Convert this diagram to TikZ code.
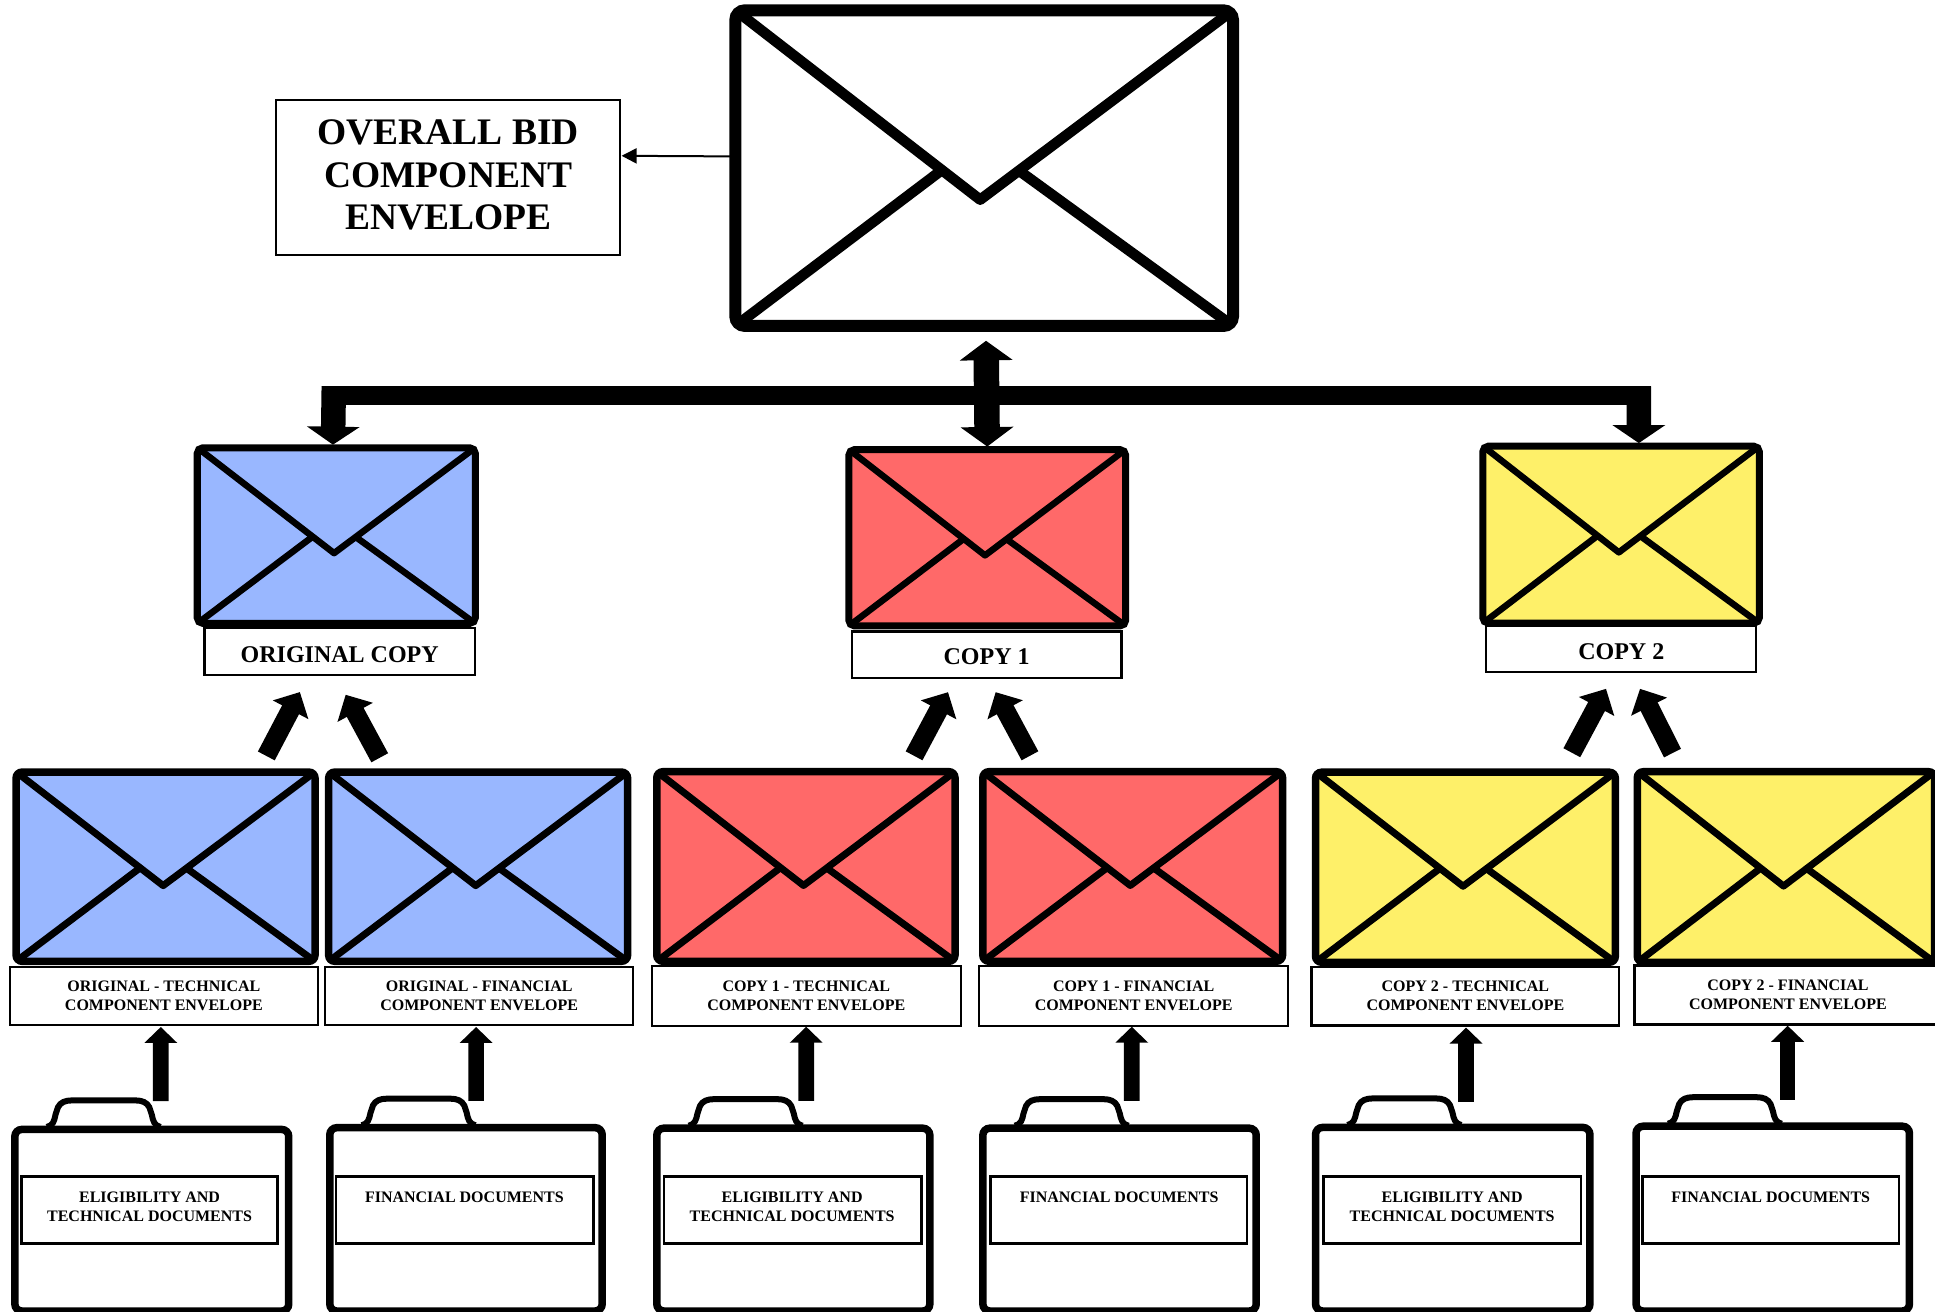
\documentclass[tikz,border=0pt]{standalone}
\usepackage{fontspec}
\setmainfont{Liberation Serif}
\usetikzlibrary{arrows.meta,calc}
\definecolor{envblue}{RGB}{153,183,255}
\definecolor{envred}{RGB}{255,105,105}
\definecolor{envyellow}{RGB}{254,240,105}
\tikzset{
  envframe/.style={draw=black,rectangle,inner sep=0pt,outer sep=0pt},
  envfold/.style={draw=black,line join=round},
  capbox/.style={draw=black,fill=white,rectangle,line width=2.3pt,inner sep=0pt,outer sep=0pt,align=center,
    font=\fontsize{16}{18.9}\selectfont\bfseries},
  bigcap/.style={capbox,font=\fontsize{24}{28}\selectfont\bfseries},
  hugecap/.style={capbox,line width=2pt,font=\fontsize{37.5}{42.5}\selectfont\bfseries},
  casebody/.style={draw=black,fill=white,rectangle,rounded corners=7pt,line width=7.5pt,inner sep=0pt,outer sep=0pt},
  casegrip/.style={draw=black,line width=6pt},
  docbox/.style={draw=black,fill=white,rectangle,line width=2.5pt,inner sep=0pt,outer sep=0pt},
  doctext/.style={inner sep=0pt,align=center,font=\fontsize{16}{18.9}\selectfont\bfseries},
  bus/.style={draw=black,line width=18.5pt},
  busdrop/.style={draw=black,line width=24.5pt,-{Triangle[width=52pt,length=18pt]}},
  twoway/.style={draw=black,line width=25.5pt,{Triangle[width=52pt,length=19.5pt]}-{Triangle[width=52pt,length=19.5pt]}},
  slant/.style={draw=black,line width=19pt,-{Triangle[width=39pt,length=20pt]}},
  upblock/.style={draw=black,line width=15.6pt,-{Triangle[width=32pt,length=16pt]}},
  thin arrow/.style={draw=black,line width=2pt,-{Triangle[width=15pt,length=15pt]}},
}
% name, outer x0 y0 x1 y1 (in reference display units), colour, frame width, fold width
\newcommand{\envelope}[8]{%
  \pgfmathsetmacro{\envW}{(#4-#2)*1.234-#7}%
  \pgfmathsetmacro{\envH}{(#5-#3)*1.234-#7}%
  \pgfmathsetmacro{\envIn}{#7/1.234/2}%
  \pgfmathsetmacro{\envXa}{#2+\envIn}%
  \pgfmathsetmacro{\envYa}{#3+\envIn}%
  \pgfmathsetmacro{\envWu}{#4-#2-2*\envIn}%
  \pgfmathsetmacro{\envHu}{#5-#3-2*\envIn}%
  \node[envframe,fill=#6,line width=#7pt,rounded corners={#7*0.8pt},minimum width=\envW pt,minimum height=\envH pt] (#1) at ({(#2+#4)/2},{(#3+#5)/2}) {};
  \coordinate (#1apex) at ({\envXa+.492*\envWu},{\envYa+.6*\envHu});
  \coordinate (#1lft) at ({\envXa+.415*\envWu},{\envYa+.506*\envHu});
  \coordinate (#1rgt) at ({\envXa+.57*\envWu},{\envYa+.508*\envHu});
  \draw[envfold,line width=#8pt] ($(#1.south west)+(1.5,-1)$) -- (#1lft);
  \draw[envfold,line width=#8pt] ($(#1.south east)+(-1.5,-1)$) -- (#1rgt);
  \draw[envfold,line width=#8pt] ($(#1.north west)+(1.5,1)$) -- (#1apex) -- ($(#1.north east)+(-1.5,1)$);
}
% style, name, x0 y0 x1 y1, text
\newcommand{\capnode}[7]{%
  \pgfmathsetmacro{\capW}{(#5-#3)*1.234-2}%
  \pgfmathsetmacro{\capH}{(#6-#4)*1.234-2}%
  \node[#1,minimum width=\capW pt,minimum height=\capH pt] (#2) at ({(#3+#5)/2},{(#4+#6)/2}) {#7};
}
% name, x0 top x1, box x0 x1, text x, text y, text
\newcommand{\briefcase}[9]{%
  \pgfmathsetmacro{\csW}{(#4-#2)*1.234-7.5}%
  \pgfmathsetmacro{\csH}{(1062.4-#3)*1.234-3.75}%
  \draw[casegrip] (#2+29,#3+1) .. controls (#2+34,#3) and (#2+35,#3-4) .. (#2+36,#3-9)
     -- (#2+38,#3-15) .. controls (#2+40,#3-19) and (#2+44,#3-20.5) .. (#2+49,#3-20.5)
     -- (#2+101,#3-20.5) .. controls (#2+106,#3-20.5) and (#2+110,#3-19) .. (#2+112,#3-15)
     -- (#2+114,#3-9) .. controls (#2+115,#3-4) and (#2+116,#3) .. (#2+121,#3+1);
  \node[casebody,minimum width=\csW pt,minimum height=\csH pt,anchor=north] (#1) at ({(#2+#4)/2},{#3+3}) {};
  \pgfmathsetmacro{\dbW}{(#6-#5)*1.234-2.5}%
  \pgfmathsetmacro{\dbH}{56.3*1.234-2.5}%
  \node[docbox,minimum width=\dbW pt,minimum height=\dbH pt] (#1box) at ({(#5+#6)/2},980.6) {};
  \node[doctext] (#1txt) at (#7,#8) {#9};
}
\begin{document}
\begin{tikzpicture}[x=1.234pt,y=-1.234pt]
\useasboundingbox (0,0) rectangle (1568,1062.4);
\path[fill=white] (0,0) rectangle (1568,1062.4);

% top level
\envelope{top}{591}{3.5}{1004}{269}{white}{12}{10.5}
\capnode{hugecap}{overall}{223}{80}{503.5}{207.5}{\raisebox{-4pt}[0pt][0pt]{\parbox{300pt}{\centering OVERALL BID\\COMPONENT\\ENVELOPE}}}
\draw[thin arrow] ($(top.west)+(0,-9.5)$) -- ($(overall.east)+(1,-17.5)$);

% second level
\envelope{origenv}{157}{360}{388}{508}{envblue}{7}{6.5}
\envelope{oneenv}{685}{361.5}{915}{510}{envred}{7}{6.5}
\envelope{twoenv}{1198.7}{358.7}{1428.5}{507.8}{envyellow}{7}{6.5}
\capnode{bigcap}{origcap}{165}{508}{385.5}{548}{\raisebox{-11pt}[0pt][0pt]{ORIGINAL COPY}}
\capnode{bigcap}{onecap}{689.5}{511}{909.5}{550}{\raisebox{-10pt}[0pt][0pt]{COPY 1}}
\capnode{bigcap}{twocap}{1203.5}{506.6}{1424}{545.6}{\raisebox{-10.5pt}[0pt][0pt]{COPY 2}}

% bus with drops
\coordinate (busL) at (260.7,320.5);
\coordinate (busR) at (1338,320.5);
\draw[bus] (busL) -- (busR);
\draw[busdrop] (270.5,313) -- ($(origenv.north)+(-2.7,-2.5)$);
\draw[busdrop] (1328,313) -- ($(twoenv.north)+(14.4,-2.5)$);
\draw[twoway] ($(top.south)+(1.5,12)$) -- ($(oneenv.north)+(0,-2.5)$);

% third level
\envelope{oT}{10}{622.6}{258.3}{782}{envblue}{7.5}{7}
\envelope{oF}{263.3}{622.6}{511.6}{782}{envblue}{7.5}{7}
\envelope{aT}{529.2}{622.3}{776.9}{782}{envred}{7.5}{7}
\envelope{aF}{793.4}{622.3}{1042.3}{782}{envred}{7.5}{7}
\envelope{bT}{1063}{622.7}{1312}{782.8}{envyellow}{7.5}{7}
\envelope{bF}{1323.7}{622.3}{1570.7}{782.8}{envyellow}{7.5}{7}

\capnode{capbox}{oTc}{7.3}{782.5}{258.3}{831.4}{ORIGINAL - TECHNICAL\\COMPONENT ENVELOPE}
\capnode{capbox}{oFc}{262.7}{782.5}{514}{831.4}{ORIGINAL - FINANCIAL\\COMPONENT ENVELOPE}
\capnode{capbox}{aTc}{527.4}{782}{779.4}{832}{COPY 1 - TECHNICAL\\COMPONENT ENVELOPE}
\capnode{capbox}{aFc}{792.7}{782}{1044.7}{832}{COPY 1 - FINANCIAL\\COMPONENT ENVELOPE}
\capnode{capbox}{bTc}{1062}{782.5}{1312.9}{831.7}{COPY 2 - TECHNICAL\\COMPONENT ENVELOPE}
\capnode{capbox}{bFc}{1323.7}{781.6}{1574}{830.9}{COPY 2 - FINANCIAL\\COMPONENT ENVELOPE}

% slanted arrows
\draw[slant] ($(oT.north)+(81.65,-13.1)$) -- ($(origcap.south)+(-32.25,13.6)$);
\draw[slant] ($(oF.north)+(-79.75,-11.6)$) -- ($(origcap.south)+(4.85,15.8)$);
\draw[slant] ($(aT.north)+(87.65,-12.9)$) -- ($(onecap.south)+(-31.3,11.7)$);
\draw[slant] ($(aF.north)+(-83.25,-12.9)$) -- ($(onecap.south)+(7.3,11.7)$);
\draw[slant] ($(bT.north)+(86.2,-15.8)$) -- ($(twocap.south)+(-12.35,13.4)$);
\draw[slant] ($(bF.north)+(-91.9,-15.1)$) -- ($(twocap.south)+(15.25,13.4)$);

% briefcases
\briefcase{k1}{9}{912.2}{237}{16.3}{226}{121.2}{977.7}{ELIGIBILITY AND\\TECHNICAL DOCUMENTS}
\briefcase{k2}{264.2}{910.8}{491}{271.3}{481.9}{376.3}{970.5}{FINANCIAL DOCUMENTS}
\briefcase{k3}{529.2}{911.2}{756.5}{537.2}{747.7}{641.9}{977.7}{ELIGIBILITY AND\\TECHNICAL DOCUMENTS}
\briefcase{k4}{793.4}{911.2}{1021}{801.6}{1011.6}{906.9}{970.5}{FINANCIAL DOCUMENTS}
\briefcase{k5}{1063}{910.6}{1291.4}{1071.4}{1282}{1176.7}{977.7}{ELIGIBILITY AND\\TECHNICAL DOCUMENTS}
\briefcase{k6}{1322.7}{909.6}{1550.3}{1329.8}{1539.7}{1434.9}{970.5}{FINANCIAL DOCUMENTS}

% upward arrows
\draw[upblock] ($(k1.north)+(7.3,-22.9)$) -- ($(oTc.south)+(-2.5,1.6)$);
\draw[upblock] ($(k2.north)+(8.2,-21.8)$) -- ($(oFc.south)+(-2.55,1.6)$);
\draw[upblock] ($(k3.north)+(10.45,-22.2)$) -- ($(aTc.south)+(-.1,.8)$);
\draw[upblock] ($(k4.north)+(9.9,-22.2)$) -- ($(aFc.south)+(-1.6,.8)$);
\draw[upblock] ($(k5.north)+(10.8,-20.6)$) -- ($(bTc.south)+(.55,1.8)$);
\draw[upblock] ($(k6.north)+(12.1,-21.6)$) -- ($(bFc.south)+(-.25,1.1)$);
\end{tikzpicture}
\end{document}
